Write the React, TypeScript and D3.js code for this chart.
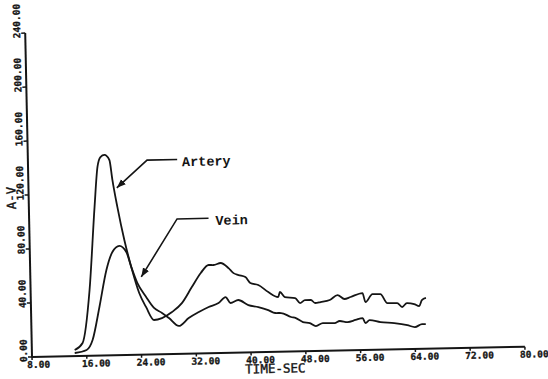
import { useEffect, useRef } from "react"
import * as d3 from "d3"

// artery curve (time in sec, A-V value)
const arteryTime = [14.25, 15.43, 16.61, 17.59, 18.14, 18.6, 19.19, 19.9, 20.28, 20.92, 21.84, 22.77, 23.85, 24.8, 25.94, 27.1, 28.58, 30.05, 31.55, 32.9, 34.07, 34.8, 35.83, 36.97, 37.68, 38.4, 39.4, 40.1, 41.26, 42.7, 44.13, 44.4, 45.1, 46.6, 47.3, 48.03, 48.9, 49.5, 50.3, 51.65, 52.8, 53.8, 54.7, 56.45, 56.86, 57.9, 59.06, 60.05, 61.5, 62.2, 62.9, 63.96, 64.7, 65.1, 65.7]
const arteryValue = [4.5, 9.6, 48.7, 110, 139.7, 147, 148.5, 144.7, 129.9, 109.8, 85.2, 65.1, 45.7, 35.3, 25.5, 26.8, 31.1, 37.6, 49.3, 59.6, 65.4, 65.3, 66.7, 62.8, 59, 57.5, 55.9, 51.4, 49.8, 44.4, 40.6, 44.3, 40.4, 39.6, 35.8, 37.9, 37.9, 35.6, 36.2, 37.6, 41.1, 38.1, 39.5, 42.2, 35.5, 41.3, 41.2, 34.4, 34.3, 31.3, 34.1, 33.3, 31.7, 36.1, 37.6]

// vein curve
const veinTime = [14.25, 16.0, 16.9, 18.0, 19.13, 20.06, 21.1, 22.09, 22.77, 23.6, 24.85, 25.97, 27.12, 28.12, 29.54, 31.0, 32.5, 33.95, 35.4, 36.45, 37.15, 38.3, 39.75, 41.2, 42.64, 43.64, 44.5, 45.95, 46.65, 47.67, 48.68, 49.55, 50.57, 52.3, 53.04, 54.2, 55.35, 56.4, 56.8, 57.4, 59.0, 61.0, 62.9, 64.0, 65.05, 65.6]
const veinValue = [2.3, 4.3, 11.6, 36, 63.3, 76.5, 80.9, 76.3, 65.1, 53.2, 42.7, 34.4, 30.6, 26.7, 20.7, 26.4, 30.7, 34.3, 37.1, 41.4, 36.9, 39, 35.1, 33.5, 31.1, 28.8, 28.7, 25.6, 24.7, 21.7, 20.8, 18.5, 20.6, 20.4, 21.9, 21.0, 22.4, 23.7, 19.9, 22.1, 20.4, 19.5, 17.8, 16.2, 18.3, 18.3]

const xTicks = [8, 16, 24, 32, 40, 48, 56, 64, 72, 80]
const yTicks = [0, 40, 80, 120, 160, 200, 240]

// leader annotations, in data units: arrow tip, elbow, end of horizontal, label
const notes = [
  { label: "Artery", tip: [20.9, 124], elbow: [25.4, 144], end: [29.8, 144], text: [30.5, 139] },
  { label: "Vein", tip: [24.2, 57.6], elbow: [29.6, 100], end: [34.2, 100], text: [35.2, 95] },
]

export default function App() {
  const svgRef = useRef<SVGSVGElement>(null)

  useEffect(() => {
    if (!svgRef.current) return
    const width = 548
    const height = 379
    const ink = "#151515"

    const svg = d3.select(svgRef.current).attr("width", width).attr("height", height)
    svg.selectAll("*").remove()

    svg.append("rect").attr("width", width).attr("height", height).attr("fill", "#fff")

    const defs = svg.append("defs")
    defs.append("marker")
      .attr("id", "head")
      .attr("markerUnits", "userSpaceOnUse")
      .attr("viewBox", "0 -4 9 8")
      .attr("refX", 9)
      .attr("refY", 0)
      .attr("markerWidth", 9)
      .attr("markerHeight", 8)
      .attr("orient", "auto")
      .append("path")
      .attr("d", "M0,-3.5L9,0L0,3.5Z")
      .attr("fill", ink)

    // the scan is slightly tilted, so the whole plot sits in a rotated group
    const g = svg.append("g").attr("transform", "translate(32,357) rotate(-1.2)")

    const x = d3.scaleLinear().domain([8, 80]).range([0, 493])
    const y = d3.scaleLinear().domain([0, 240]).range([0, -324])

    // axes
    g.append("line").attr("x1", 0).attr("x2", x(80)).attr("y1", 0).attr("y2", 0)
      .attr("stroke", ink).attr("stroke-width", 2)
    g.append("line").attr("x1", 0).attr("x2", 0).attr("y1", 0).attr("y2", y(240))
      .attr("stroke", ink).attr("stroke-width", 2)

    g.selectAll(".xt").data(xTicks).enter().append("line")
      .attr("x1", (d) => x(d)).attr("x2", (d) => x(d)).attr("y1", 0).attr("y2", 3)
      .attr("stroke", ink).attr("stroke-width", 1.5)
    g.selectAll(".yt").data(yTicks).enter().append("line")
      .attr("x1", 0).attr("x2", -4).attr("y1", (d) => y(d)).attr("y2", (d) => y(d))
      .attr("stroke", ink).attr("stroke-width", 1.5)

    const tickFont = "'DejaVu Sans Mono', monospace"
    g.selectAll(".xl").data(xTicks).enter().append("text")
      .attr("x", (d) => x(d) - 5)
      .attr("y", 11)
      .attr("font-family", tickFont)
      .attr("font-weight", "bold")
      .attr("font-size", 9.5)
      .attr("fill", ink)
      .attr("stroke", ink)
      .attr("stroke-width", 0.3)
      .text((d) => d3.format(".2f")(d))

    g.selectAll(".yl").data(yTicks).enter().append("text")
      .attr("transform", (d) => `translate(-5,${y(d) + 5}) rotate(-90)`)
      .attr("font-family", tickFont)
      .attr("font-weight", "bold")
      .attr("font-size", 9.5)
      .attr("fill", ink)
      .attr("stroke", ink)
      .attr("stroke-width", 0.3)
      .text((d) => d3.format(".2f")(d))

    g.append("text")
      .attr("x", x(43.5))
      .attr("y", 21)
      .attr("text-anchor", "middle")
      .attr("font-family", tickFont)
      .attr("font-size", 12.5)
      .attr("fill", ink)
      .attr("stroke", ink)
      .attr("stroke-width", 0.4)
      .text("TIME-SEC")

    g.append("text")
      .attr("transform", `translate(-13,${y(118)}) rotate(-90)`)
      .attr("text-anchor", "middle")
      .attr("font-family", tickFont)
      .attr("font-size", 12.5)
      .attr("fill", ink)
      .attr("stroke", ink)
      .attr("stroke-width", 0.4)
      .text("A-V")

    // curves
    const line = d3.line<[number, number]>()
      .x((d) => x(d[0]))
      .y((d) => y(d[1]))
      .curve(d3.curveMonotoneX)

    const artery = arteryTime.map((t, i) => [t, arteryValue[i]] as [number, number])
    const vein = veinTime.map((t, i) => [t, veinValue[i]] as [number, number])

    g.selectAll(".curve").data([artery, vein]).enter().append("path")
      .attr("d", (d) => line(d))
      .attr("fill", "none")
      .attr("stroke", ink)
      .attr("stroke-width", 1.8)
      .attr("stroke-linejoin", "round")

    // annotations
    notes.forEach((n) => {
      g.append("path")
        .attr("d", `M${x(n.end[0])},${y(n.end[1])}L${x(n.elbow[0])},${y(n.elbow[1])}L${x(n.tip[0])},${y(n.tip[1])}`)
        .attr("fill", "none")
        .attr("stroke", ink)
        .attr("stroke-width", 1.6)
        .attr("marker-end", "url(#head)")
      g.append("text")
        .attr("x", x(n.text[0]))
        .attr("y", y(n.text[1]))
        .attr("font-family", "'Liberation Mono', monospace")
        .attr("font-weight", "bold")
        .attr("font-size", 13.5)
        .attr("fill", ink)
        .text(n.label)
    })
  }, [])

  return <svg ref={svgRef} style={{ position: "absolute", left: 0, top: 0 }} />
}
